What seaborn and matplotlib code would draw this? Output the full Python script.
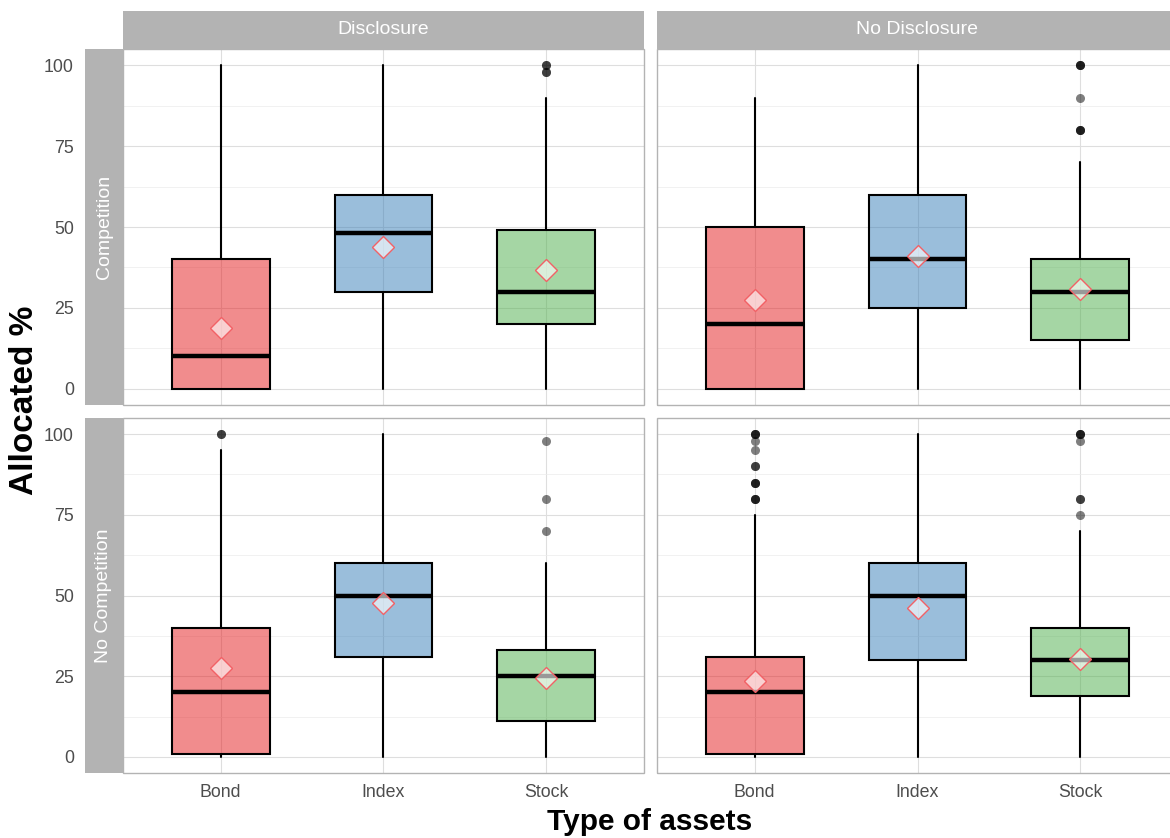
import matplotlib
matplotlib.use("Agg")
import matplotlib.pyplot as plt
from matplotlib.patches import Rectangle
import numpy as np
import pandas as pd
import seaborn as sns

# ---- data -------------------------------------------------------------
assets = ["Bond", "Index", "Stock"]
disclosure = ["Disclosure", "No Disclosure"]
competition = ["Competition", "No Competition"]

# box statistics, indexed [competition][disclosure][asset]
q1 = [[[0, 30, 20], [0, 25, 15]],
      [[1, 31, 11], [1, 30, 19]]]
median = [[[10, 48, 30], [20, 40, 30]],
          [[20, 50, 25], [20, 50, 30]]]
q3 = [[[40, 60, 49], [50, 60, 40]],
      [[40, 60, 33], [31, 60, 40]]]
whisker_low = [[[0, 0, 0], [0, 0, 0]],
               [[0, 0, 0], [0, 0, 0]]]
whisker_high = [[[100, 100, 90], [90, 100, 70]],
                [[95, 100, 60], [75, 100, 70]]]
mean = [[[18.8, 43.8, 36.7], [27.5, 41.0, 30.9]],
        [[27.5, 47.7, 24.5], [23.5, 46.0, 30.3]]]
outliers = [[[[], [], [100, 100, 98, 98]],
             [[], [], [100, 100, 100, 90, 80, 80, 80]]],
            [[[100, 100], [], [98, 80, 70]],
             [[100, 100, 100, 98, 95, 90, 90, 85, 85, 85, 80, 80, 80], [],
              [100, 100, 100, 98, 80, 80, 75]]]]

fill_colors = ["#E41A1C", "#377EB8", "#4DAF4A"]

rows = []
for i, comp in enumerate(competition):
    for j, disc in enumerate(disclosure):
        for k, asset in enumerate(assets):
            rows.append(dict(competition=comp, disclosure=disc, asset=asset,
                             pos=k, q1=q1[i][j][k], med=median[i][j][k],
                             q3=q3[i][j][k], whislo=whisker_low[i][j][k],
                             whishi=whisker_high[i][j][k], mean=mean[i][j][k],
                             fliers=outliers[i][j][k]))
df = pd.DataFrame(rows)

# ---- style --------------------------------------------------------------
sns.set_style("white")
plt.rcParams["font.family"] = ["Liberation Sans", "DejaVu Sans"]

GRID = "#DEDEDE"
STRIP = "#B3B3B3"
TICK_TXT = "#4D4D4D"


def draw_boxes(data, **kws):
    ax = plt.gca()
    data = data.sort_values("pos")
    stats = []
    for _, r in data.iterrows():
        stats.append(dict(med=r.med, q1=r.q1, q3=r.q3, whislo=r.whislo,
                          whishi=r.whishi, mean=r["mean"],
                          fliers=np.asarray(r.fliers, dtype=float)))
    art = ax.bxp(stats, positions=data["pos"].tolist(),
                 widths=0.6, patch_artist=True, showmeans=True,
                 showcaps=False, manage_ticks=False,
                 boxprops=dict(edgecolor="black", linewidth=1.5),
                 whiskerprops=dict(color="black", linewidth=1.5),
                 medianprops=dict(color="black", linewidth=3.2,
                                  solid_capstyle="butt"),
                 meanprops=dict(marker="D", markersize=11,
                                markerfacecolor=(1, 1, 1, 0.6),
                                markeredgecolor=(0.95, 0.38, 0.40),
                                markeredgewidth=1.0),
                 flierprops=dict(marker="o", markersize=6.5,
                                 markerfacecolor=(0, 0, 0, 0.5),
                                 markeredgecolor=(0, 0, 0, 0.0),
                                 linestyle="none"))
    for patch, c in zip(art["boxes"], fill_colors):
        patch.set_facecolor(matplotlib.colors.to_rgba(c, 0.5))
    for m in art["means"]:
        m.set_zorder(4)


g = sns.FacetGrid(df, row="competition", col="disclosure",
                  row_order=competition, col_order=disclosure,
                  sharex=True, sharey=True, height=4, aspect=1.4,
                  despine=False)
g.map_dataframe(draw_boxes)
g.set_titles("")
g.set_axis_labels("", "")

fig = g.figure
fig.set_size_inches(11.7, 8.38)
fig.set_dpi(100)

W, H = 1170.0, 838.0
col_x = [123, 657]
panel_w = 521
row_y = [(49, 405), (418, 773)]
strip_px = 38
PX = 72.0 / 100.0  # points per pixel

for i in range(2):
    for j in range(2):
        ax = g.axes[i, j]
        top, bot = row_y[i]
        ax.set_position([col_x[j] / W, 1 - bot / H, panel_w / W, (bot - top) / H])
        ax.set_xlim(-0.6, 2.6)
        ax.set_ylim(-5, 105)
        ax.set_xticks(range(len(assets)))
        ax.set_xticklabels(assets)
        ax.set_yticks([0, 25, 50, 75, 100])
        ax.set_yticks([12.5, 37.5, 62.5, 87.5], minor=True)
        ax.set_axisbelow(True)
        ax.grid(True, which="major", color=GRID, linewidth=0.8)
        ax.grid(True, which="minor", axis="y", color="#EBEBEB", linewidth=0.5)
        ax.set_facecolor("white")
        for s in ax.spines.values():
            s.set_color("none")
        ax.add_patch(Rectangle((0, 0), 1, 1, transform=ax.transAxes,
                               fill=False, edgecolor=STRIP, linewidth=1.0,
                               clip_on=False, zorder=5))
        ax.tick_params(axis="both", which="both", colors=STRIP,
                       labelcolor=TICK_TXT, labelsize=12.8, length=5,
                       width=0.8, pad=3)
        ax.tick_params(axis="y", which="minor", length=0)

        # left column: ticks sit outside the row strip
        if j == 0:
            ax.spines["left"].set_position(("outward", strip_px * PX))
        else:
            ax.tick_params(axis="y", which="both", left=False, labelleft=False)
        if i == 0:
            ax.tick_params(axis="x", bottom=False, labelbottom=False)

        # column strip on top row
        if i == 0:
            h = strip_px / (bot - top)
            ax.add_patch(Rectangle((0, 1), 1, h, transform=ax.transAxes,
                                   facecolor=STRIP, edgecolor="none",
                                   clip_on=False, zorder=6))
            ax.text(0.5, 1 + h / 2, disclosure[j], transform=ax.transAxes,
                    ha="center", va="center", color="white", fontsize=14,
                    zorder=7)
        # row strip on left column
        if j == 0:
            w = strip_px / panel_w
            ax.add_patch(Rectangle((-w, 0), w, 1, transform=ax.transAxes,
                                   facecolor=STRIP, edgecolor="none",
                                   clip_on=False, zorder=6))
            ax.text(-w / 2, 0.5, competition[i], transform=ax.transAxes,
                    ha="center", va="center", rotation=90, color="white",
                    fontsize=14, zorder=7)

fig.text(25 / W, 1 - 400 / H, "Allocated %", rotation=90, ha="center",
         va="center", fontsize=24, fontweight="bold", color="black")
fig.text(650 / W, 1 - 822 / H, "Type of assets", ha="center", va="center",
         fontsize=21.5, fontweight="bold", color="black")

fig.savefig("out.png", dpi=100, facecolor="white")
